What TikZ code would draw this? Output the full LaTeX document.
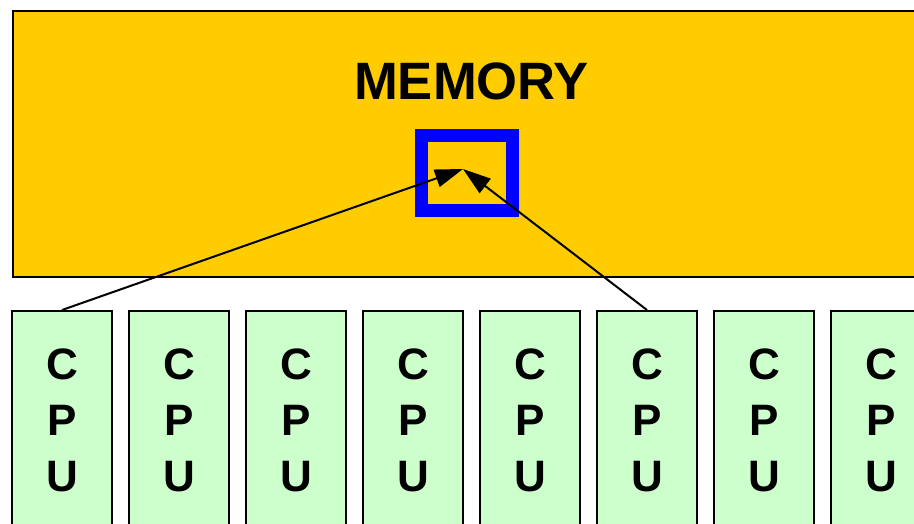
\documentclass[tikz,border=0pt]{standalone}
\usepackage{fontspec}
\setmainfont{Liberation Sans}
\usetikzlibrary{arrows.meta}
\definecolor{memyellow}{HTML}{FFCC00}
\definecolor{cpugreen}{HTML}{CCFFCC}
\definecolor{cellblue}{HTML}{0000FF}
\tikzset{
  membox/.style={draw=black, line width=2pt, fill=memyellow, rectangle, inner sep=0pt, anchor=north west, minimum width=960pt, minimum height=266pt},
  cpubox/.style={draw=black, line width=2pt, fill=cpugreen, rectangle, inner sep=0pt, anchor=north, minimum width=100pt, minimum height=260pt},
  cputext/.style={font=\fontsize{44}{56}\selectfont\bfseries, align=center, inner sep=0pt},
  cellbox/.style={draw=cellblue, line width=13pt, rectangle, inner sep=0pt, minimum width=91pt, minimum height=74.5pt},
  link/.style={line width=2pt, -{Triangle[length=28pt,width=18pt]}}
}
\begin{document}
\begin{tikzpicture}[x=1pt,y=-1pt]
\useasboundingbox (0,0) rectangle (914,523);
\clip (0,0) rectangle (914,523);
\node[membox] (mem) at (12,10) {};
\node[font=\fontsize{52.6}{60}\selectfont\bfseries, inner sep=0pt] (memlabel) at (471.5,81) {MEMORY};
\node[cellbox] (cell) at (467,172.75) {};
\coordinate (tip) at (463,169);
\foreach \i in {1,...,8} {
  \node[cpubox] (cpu\i) at ({62+117*(\i-1)},310) {};
  \node[cputext] (cputxt\i) at ({62+117*(\i-1)},420) {C\\P\\U};
}
\draw[link] (cpu1.north) -- (tip);
\draw[link] (cpu6.north) -- (tip);
\end{tikzpicture}
\end{document}
